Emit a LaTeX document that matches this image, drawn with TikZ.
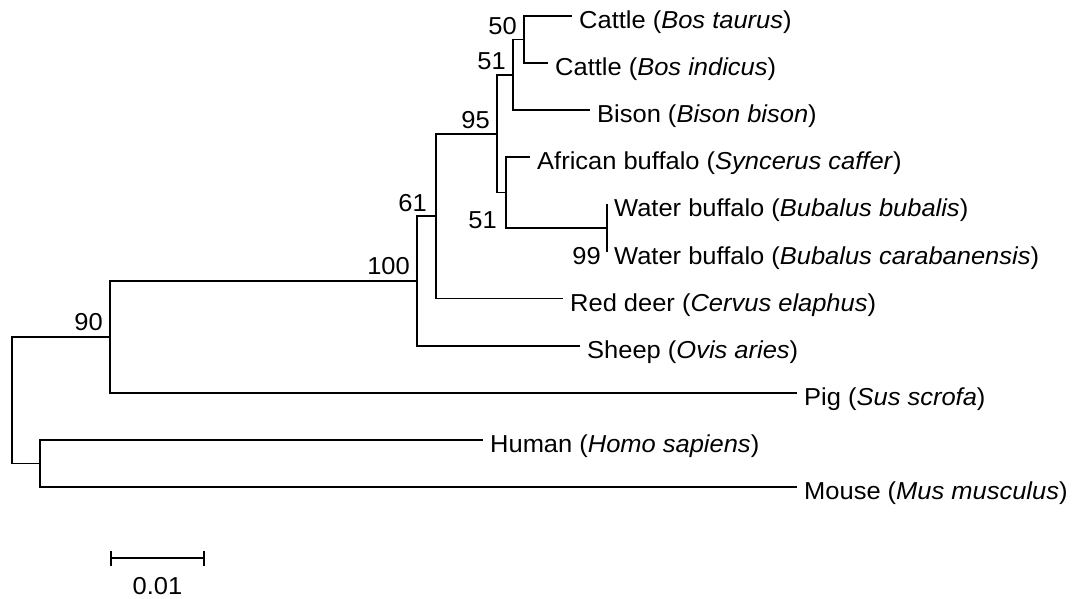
\documentclass[tikz,border=0pt]{standalone}
\usepackage{fontspec}
\setmainfont[FakeStretch=1.04]{Liberation Sans}
\usetikzlibrary{positioning,arrows.meta}

\begin{document}
\begin{tikzpicture}[x=1pt, y=-1pt,
  br/.style={line width=1.6pt},
  leaf/.style={anchor=west, inner xsep=7pt, inner ysep=0pt, text height=30pt, text depth=5pt, font=\fontsize{24.5}{28}\selectfont},
  boot/.style={anchor=base east, inner sep=0pt, xshift=-7pt, yshift=5pt, font=\fontsize{24.5}{28}\selectfont}]
\useasboundingbox (0,0) rectangle (1072,599);
% leaves
\node[leaf] (taurus) at (572,16) {Cattle (\textit{Bos taurus})};
\node[leaf] (indicus) at (548,63.1) {Cattle (\textit{Bos indicus})};
\node[leaf] (bison) at (590,110.2) {Bison (\textit{Bison bison})};
\node[leaf] (caffer) at (530,157.3) {African buffalo (\textit{Syncerus caffer})};
\node[leaf] (bubalis) at (607,204.4) {Water buffalo (\textit{Bubalus bubalis})};
\node[leaf] (caraban) at (607,251.5) {Water buffalo (\textit{Bubalus carabanensis})};
\node[leaf] (deer) at (563,298.6) {Red deer (\textit{Cervus elaphus})};
\node[leaf] (sheep) at (580,345.7) {Sheep (\textit{Ovis aries})};
\node[leaf] (pig) at (797,392.8) {Pig (\textit{Sus scrofa})};
\node[leaf] (human) at (483,439.9) {Human (\textit{Homo sapiens})};
\node[leaf] (mouse) at (797,487) {Mouse (\textit{Mus musculus})};
% internal nodes
\coordinate (n50) at (524,39.55);
\coordinate (n51a) at (513,74.9);
\coordinate (n99) at (607,227.95);
\coordinate (n51b) at (506,192.6);
\coordinate (n95) at (497,133.75);
\coordinate (n61) at (436,216.2);
\coordinate (n100) at (417,280.95);
\coordinate (n90) at (110,336.9);
\coordinate (nhm) at (40,463.45);
\coordinate (root) at (12,400.2);
% branches
\draw[br] (n50) |- (taurus.west); \draw[br] (n50) |- (indicus.west);
\draw[br] (n51a) |- (n50); \draw[br] (n51a) |- (bison.west);
\draw[br] (bubalis.west) -- (caraban.west);
\draw[br] (n51b) |- (caffer.west); \draw[br] (n51b) |- (n99);
\draw[br] (n95) |- (n51a); \draw[br] (n95) |- (n51b);
\draw[br] (n61) |- (n95); \draw[br] (n61) |- (deer.west);
\draw[br] (n100) |- (n61); \draw[br] (n100) |- (sheep.west);
\draw[br] (n90) |- (n100); \draw[br] (n90) |- (pig.west);
\draw[br] (nhm) |- (human.west); \draw[br] (nhm) |- (mouse.west);
\draw[br] (root) |- (n90); \draw[br] (root) |- (nhm);
% bootstrap values
\node[boot] (b50) at (n50) {50};
\node[boot] (b51a) at (n51a) {51};
\node[boot] (b95) at (n95) {95};
\node[boot, yshift=-41pt, xshift=-2pt] (b51b) at (n51b) {51};
\node[boot, yshift=-41.5pt, xshift=1pt] (b99) at (n99) {99};
\node[boot, xshift=-2pt] (b61) at (n61) {61};
\node[boot, yshift=1pt] (b100) at (n100) {100};
\node[boot, yshift=1pt] (b90) at (n90) {90};
% scale bar
\coordinate (sbl) at (110,558);
\coordinate (sbr) at (205,558);
\coordinate (sbm) at (157.5,558);
\draw[br, {Bar[width=15pt]}-{Bar[width=15pt]}] (sbl) -- (sbr);
\node[font=\fontsize{24.5}{28}\selectfont, below=19pt of sbm, inner sep=0pt] (scale) {0.01};
\end{tikzpicture}
\end{document}
